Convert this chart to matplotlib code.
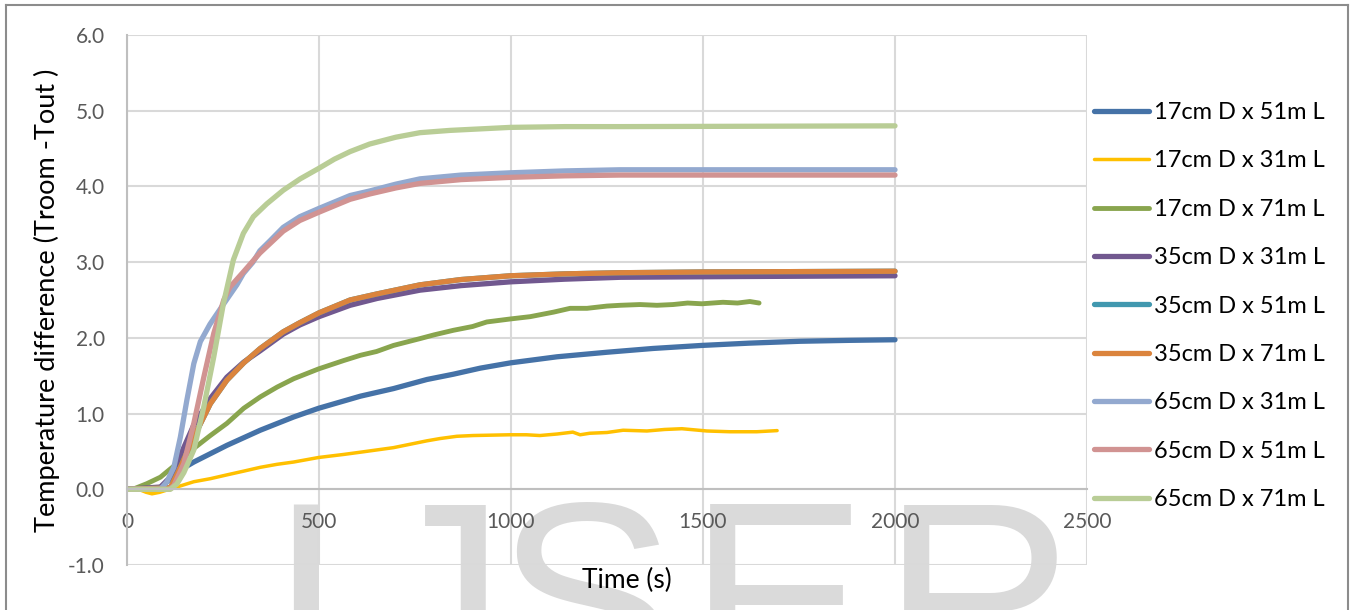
import matplotlib.pyplot as plt
from matplotlib.lines import Line2D

plt.rcParams['font.family'] = ['Lato', 'DejaVu Sans']

# 17cm D x 51m L
t_17_51 = [0, 90, 104, 130, 174, 217, 260, 347, 434, 499, 608, 694, 781, 850, 920, 999, 1120, 1250, 1370, 1497, 1620, 1753, 1880, 2000]
v_17_51 = [0, 0.02, 0.10, 0.23, 0.36, 0.47, 0.58, 0.78, 0.955, 1.07, 1.23, 1.33, 1.45, 1.52, 1.60, 1.67, 1.75, 1.81, 1.86, 1.90, 1.93, 1.955, 1.967, 1.975]

# 17cm D x 31m L
t_17_31 = [0, 30, 50, 65, 85, 104, 130, 174, 217, 260, 304, 347, 391, 434, 499, 564, 608, 694, 781, 815,
           859, 901, 997, 1040, 1075, 1120, 1161, 1180, 1205, 1250, 1292, 1354, 1400, 1445, 1510, 1570, 1640, 1693]
v_17_31 = [0, 0, -0.04, -0.06, -0.04, -0.01, 0.03, 0.10, 0.14, 0.19, 0.24, 0.29, 0.33, 0.36, 0.42, 0.46, 0.49, 0.55, 0.64, 0.67,
           0.70, 0.71, 0.72, 0.72, 0.71, 0.73, 0.755, 0.72, 0.74, 0.75, 0.78, 0.77, 0.79, 0.80, 0.77, 0.76, 0.76, 0.775]

# 17cm D x 71m L
t_17_71 = [0, 20, 52, 87, 130, 174, 217, 260, 304, 347, 391, 434, 499, 564, 608, 650, 694, 763, 800, 850, 900, 937,
           999, 1050, 1111, 1154, 1198, 1250, 1284, 1336, 1380, 1422, 1460, 1497, 1552, 1590, 1622, 1646]
v_17_71 = [0, 0.01, 0.075, 0.16, 0.34, 0.54, 0.71, 0.87, 1.07, 1.22, 1.35, 1.46, 1.59, 1.70, 1.77, 1.82, 1.90, 1.99, 2.04, 2.10, 2.15, 2.21,
           2.25, 2.28, 2.34, 2.39, 2.39, 2.42, 2.43, 2.44, 2.43, 2.44, 2.46, 2.45, 2.47, 2.46, 2.48, 2.46]

# 35cm D x 31m L
t_35_31 = [0, 87, 113, 139, 174, 217, 260, 304, 347, 407, 450, 500, 581, 651, 763, 870, 999, 1140, 1284, 1600, 2000]
v_35_31 = [0, 0.03, 0.16, 0.45, 0.85, 1.20, 1.48, 1.68, 1.83, 2.05, 2.17, 2.28, 2.43, 2.52, 2.63, 2.69, 2.74, 2.775, 2.80, 2.81, 2.82]

# 35cm D x 51m L (lies under the 71m curve)
t_35_51 = [0, 113, 139, 174, 217, 260, 304, 347, 407, 450, 500, 581, 651, 763, 870, 999, 1140, 1284, 1500, 2000]
v_35_51 = [0, 0.02, 0.29, 0.69, 1.13, 1.44, 1.67, 1.86, 2.08, 2.20, 2.33, 2.50, 2.58, 2.70, 2.77, 2.82, 2.845, 2.86, 2.87, 2.88]

# 35cm D x 71m L
t_35_71 = [0, 113, 139, 174, 217, 260, 304, 347, 407, 450, 500, 581, 651, 763, 870, 999, 1140, 1284, 1500, 2000]
v_35_71 = [0, 0.02, 0.29, 0.69, 1.13, 1.44, 1.67, 1.86, 2.08, 2.20, 2.33, 2.50, 2.58, 2.70, 2.77, 2.82, 2.845, 2.86, 2.87, 2.88]

# 65cm D x 31m L
t_65_31 = [0, 87, 104, 122, 139, 156, 174, 191, 216, 252, 286, 303, 328, 346, 372, 407, 450, 500, 581, 632, 700, 763, 870, 999, 1140, 1284, 2000]
v_65_31 = [0, 0, 0.10, 0.29, 0.69, 1.18, 1.66, 1.95, 2.18, 2.45, 2.70, 2.85, 3.00, 3.15, 3.28, 3.46, 3.60, 3.71, 3.88, 3.94, 4.03, 4.10, 4.15, 4.18, 4.205, 4.22, 4.22]

# 65cm D x 51m L
t_65_51 = [0, 110, 122, 148, 174, 200, 226, 252, 268, 303, 346, 407, 450, 500, 581, 632, 700, 763, 870, 999, 1140, 1284, 2000]
v_65_51 = [0, 0, 0.05, 0.34, 0.87, 1.48, 2.06, 2.50, 2.67, 2.87, 3.12, 3.41, 3.55, 3.66, 3.83, 3.90, 3.98, 4.04, 4.09, 4.12, 4.14, 4.15, 4.15]

# 65cm D x 71m L
t_65_71 = [0, 113, 130, 148, 174, 200, 226, 251, 277, 303, 329, 364, 407, 451, 500, 540, 581, 632, 700, 763, 841, 999, 1140, 1284, 2000]
v_65_71 = [0, 0, 0.07, 0.22, 0.52, 1.09, 1.75, 2.45, 3.03, 3.38, 3.60, 3.77, 3.95, 4.10, 4.24, 4.36, 4.46, 4.56, 4.65, 4.71, 4.74, 4.78, 4.79, 4.79, 4.80]

labels = ['17cm D x 51m L', '17cm D x 31m L', '17cm D x 71m L',
          '35cm D x 31m L', '35cm D x 51m L', '35cm D x 71m L',
          '65cm D x 31m L', '65cm D x 51m L', '65cm D x 71m L']
times = [t_17_51, t_17_31, t_17_71, t_35_31, t_35_51, t_35_71, t_65_31, t_65_51, t_65_71]
values = [v_17_51, v_17_31, v_17_71, v_35_31, v_35_51, v_35_71, v_65_31, v_65_51, v_65_71]

colors = ['#4572A7', '#FFC000', '#89A54E', '#71588F', '#4198AF', '#DB843D', '#93A9CF', '#D19392', '#B9CD96']
widths = [3.8, 2.5, 3.5, 3.8, 3.8, 3.8, 3.8, 3.8, 3.8]

fig = plt.figure(figsize=(13.52, 6.10), dpi=100)

# watermark behind the chart
for letter, xc in zip('IJSER', [306, 438, 586, 778, 979]):
    fig.text(xc / 1352, 1 - 495 / 610, letter, fontsize=194, family='Liberation Sans',
             color='#dadada', ha='center', va='top', zorder=-1)

ax = fig.add_axes([127 / 1352, 45 / 610, 960 / 1352, 530 / 610])
ax.patch.set_alpha(0)

for t, v, lab, c, w in zip(times, values, labels, colors, widths):
    ax.plot(t, v, color=c, lw=w, label=lab, solid_capstyle='round', solid_joinstyle='round')

ax.set_xlim(0, 2500)
ax.set_ylim(-1, 6)
ax.set_xticks(range(0, 2501, 500))
ax.set_yticks(range(-1, 7))
ax.set_yticklabels(['%.1f' % y for y in range(-1, 7)])
ax.grid(True, color='#d9d9d9', lw=1.5)
ax.set_axisbelow(True)

for s in ['top', 'right']:
    ax.spines[s].set_visible(False)
ax.spines['bottom'].set_position(('data', 0))
ax.spines['bottom'].set_color('#bfbfbf')
ax.spines['left'].set_color('#bfbfbf')
ax.spines['bottom'].set_linewidth(1.5)
ax.spines['left'].set_linewidth(1.5)
ax.tick_params(length=0, labelsize=15, labelcolor='#595959', pad=16)

ax.set_xlabel('Time (s)', fontsize=19)
ax.xaxis.set_label_coords(0.521, -0.005)
ax.set_ylabel('Temperature difference (Troom -Tout )', fontsize=19.5)
ax.yaxis.set_label_coords(-0.070, 0.5)

ax.legend(loc='upper left', bbox_to_anchor=(1094 / 1352, 1 - 102 / 610), bbox_transform=fig.transFigure,
          frameon=False, fontsize=17, handlelength=2.33, handletextpad=0.22, labelspacing=1.16,
          borderpad=0, borderaxespad=0)

# outer chart frame
fig.add_artist(Line2D([6 / 1352, 6 / 1352], [0, 1 - 5 / 610], color='#8c8c8c', lw=1.5))
fig.add_artist(Line2D([6 / 1352, 1348 / 1352], [1 - 5 / 610, 1 - 5 / 610], color='#8c8c8c', lw=1.5))
fig.add_artist(Line2D([1348 / 1352, 1348 / 1352], [0, 1 - 5 / 610], color='#8c8c8c', lw=1.5))

fig.savefig('out.png', dpi=100)
